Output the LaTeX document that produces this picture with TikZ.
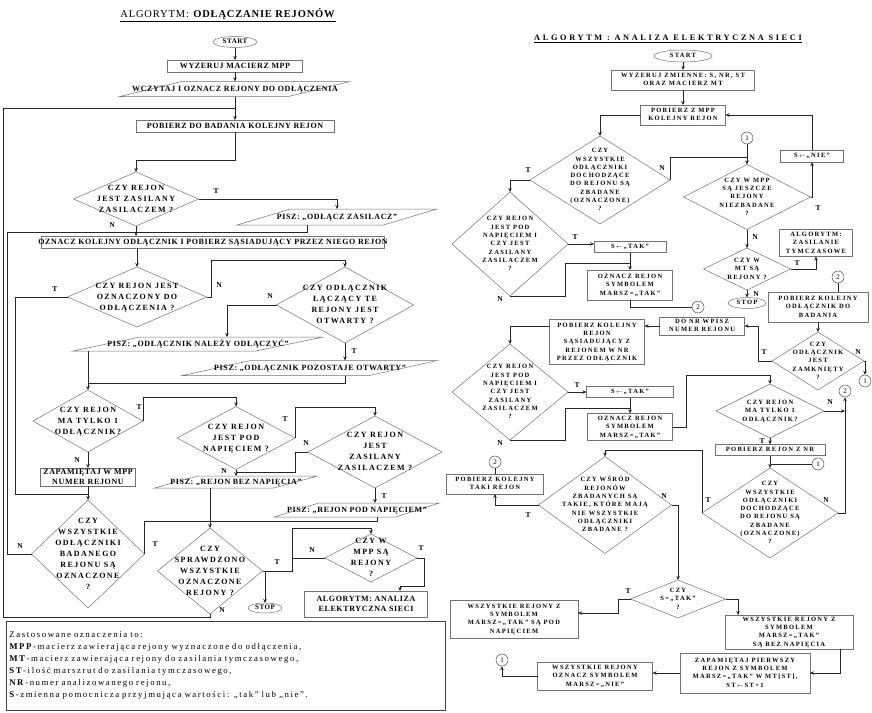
\documentclass[tikz,border=0pt]{standalone}
\usepackage{fontspec}
\setmainfont{Liberation Serif}
\newfontfamily\lfont[LetterSpace=8]{Liberation Serif}
\newfontfamily\ldfont[LetterSpace=18]{Liberation Serif}
\newfontfamily\rfont[LetterSpace=20]{Liberation Serif}
\newfontfamily\rtfont[LetterSpace=32]{Liberation Serif}
\usetikzlibrary{arrows.meta, shapes.geometric}
\newcommand{\fctext}[1]{\smash{\makebox[0pt]{\raisebox{-0.25em}{\begin{tabular}{@{}c@{}}#1\end{tabular}}}}}
\tikzset{
  sz/.style 2 args={minimum width=#1pt, minimum height=#2pt},
  fcshape/.style={draw=black!55, line width=0.5pt, fill=white, inner sep=0pt, outer sep=0pt},
  lbox/.style={fcshape, rectangle, font=\lfont\bfseries\fontsize{8}{10}\selectfont},
  ldec/.style={fcshape, diamond, font=\ldfont\bfseries\fontsize{8}{11}\selectfont},
  lio/.style={fcshape, trapezium, trapezium left angle=60, trapezium right angle=120,
    trapezium stretches=true, inner sep=1pt, font=\lfont\bfseries\fontsize{8}{10}\selectfont},
  lterm/.style={fcshape, ellipse, font=\lfont\bfseries\fontsize{7}{8}\selectfont},
  rbox/.style={fcshape, rectangle, font=\rfont\bfseries\fontsize{6.5}{8.3}\selectfont},
  rdec/.style={fcshape, diamond, font=\rfont\bfseries\fontsize{6.5}{8.3}\selectfont},
  rterm/.style={fcshape, ellipse, font=\rfont\bfseries\fontsize{6.5}{8}\selectfont},
  fcconn/.style={circle, draw=black!70, line width=0.5pt, fill=white, minimum size=12pt,
    inner sep=0pt, font=\fontsize{7}{8}\selectfont},
  fcarrow/.style={-{Stealth[length=4pt,width=3.5pt]}, line width=0.6pt, black!85},
  fcline/.style={line width=0.6pt, black!85},
  fclabel/.style={font=\lfont\bfseries\fontsize{7.5}{8}\selectfont, inner sep=0pt},
}

\begin{document}
\begin{tikzpicture}[x=1pt, y=-1pt]
  \fill[white] (0,0) rectangle (872,712);
  \useasboundingbox (0,0) rectangle (872,712);

  % odlaczanie rejonow
  \node[font=\lfont\fontsize{10.5}{12}\selectfont] (ltitle) at (228,15) {\underline{ALGORYTM: \textbf{ODŁĄCZANIE REJONÓW}}};
  \node[lterm, sz={44}{11}] (start) at (235,42) {\fctext{START}};
  \node[lbox, sz={135}{12}] (zer) at (235,66) {\fctext{WYZERUJ MACIERZ MPP}};
  \node[lio, sz={230}{15}] (wcz) at (235,89) {\fctext{WCZYTAJ I OZNACZ REJONY DO ODŁĄCZENIA}};
  \node[lbox, sz={198}{12}] (pob) at (235,126) {\fctext{POBIERZ DO BADANIA KOLEJNY REJON}};
  \node[ldec, sz={125}{54}] (dzas) at (136,199) {\fctext{CZY REJON\\JEST ZASILANY\\ZASILACZEM ?}};
  \node[lio, sz={200}{16}] (pzas) at (337,217) {\fctext{PISZ: „ODŁĄCZ ZASILACZ”}};
  \node[lbox, sz={343}{12}] (ozn) at (213,242) {\fctext{OZNACZ KOLEJNY ODŁĄCZNIK I POBIERZ SĄSIADUJĄCY PRZEZ NIEGO REJON}};
  \node[ldec, sz={139}{60}] (doz) at (137,297) {\fctext{CZY REJON JEST\\OZNACZONY DO\\ODŁĄCZENIA ?}};
  \node[ldec, sz={137}{76}] (dotw) at (345,305) {\fctext{CZY ODŁĄCZNIK\\ŁĄCZĄCY TE\\REJONY JEST\\OTWARTY ?}};
  \node[lio, sz={250}{14}] (pnal) at (198,344) {\fctext{PISZ: „ODŁĄCZNIK NALEŻY ODŁĄCZYĆ”}};
  \node[lio, sz={255}{15}] (ppoz) at (310,368) {\fctext{PISZ: „ODŁĄCZNIK POZOSTAJE OTWARTY”}};
  \node[ldec, sz={110}{62}] (dtyl) at (88,421) {\fctext{CZY REJON\\MA TYLKO 1\\ODŁĄCZNIK?}};
  \node[lbox, sz={95}{18}] (zap) at (88,477) {\fctext{ZAPAMIĘTAJ W MPP\\NUMER REJONU}};
  \node[ldec, sz={118}{63}] (dnap) at (236,438) {\fctext{CZY REJON\\JEST POD\\NAPIĘCIEM ?}};
  \node[ldec, sz={134}{72}] (dzas2) at (375,452) {\fctext{CZY REJON\\JEST\\ZASILANY\\ZASILACZEM ?}};
  \node[lio, sz={163}{12}] (pbez) at (236,482) {\fctext{PISZ: „REJON BEZ NAPIĘCIA”}};
  \node[lio, sz={165}{14}] (ppod) at (357,510) {\fctext{PISZ: „REJON POD NAPIĘCIEM”}};
  \node[ldec, sz={113}{108}] (dwsz) at (88,554) {\fctext{CZY\\WSZYSTKIE\\ODŁĄCZNIKI\\BADANEGO\\REJONU SĄ\\OZNACZONE\\?}};
  \node[ldec, sz={105}{86}] (dspr) at (210,571) {\fctext{CZY\\SPRAWDZONO\\WSZYSTKIE\\OZNACZONE\\REJONY ?}};
  \node[ldec, sz={92}{48}] (dmpp) at (371,558) {\fctext{CZY W\\MPP SĄ\\REJONY\\?}};
  \node[lterm, sz={34}{10}] (stop) at (265,608) {\fctext{STOP}};
  \node[lbox, sz={123}{26}] (anal) at (366,604) {\fctext{ALGORYTM: ANALIZA\\ELEKTRYCZNA SIECI}};
  \node[draw=black!75, line width=0.6pt, anchor=north west, text width=433pt, minimum height=89pt,
    inner sep=3pt, align=left, font=\ldfont\fontsize{8.8}{12}\selectfont] (legend) at (6,621)
    {Zastosowane oznaczenia to:\\
     \textbf{MPP}-macierz zawierająca rejony wyznaczone do odłączenia,\\
     \textbf{MT}-macierz zawierająca rejony do zasilania tymczasowego,\\
     \textbf{ST}-ilość marszrut do zasilania tymczasowego,\\
     \textbf{NR}-numer analizowanego rejonu,\\
     \textbf{S}-zmienna pomocnicza przyjmująca wartości: „tak” lub „nie”.};

  \node[fclabel] (lt1) at (216,191) {T};
  \node[fclabel] (ln1) at (112,225) {N};
  \node[fclabel] (lt2) at (55,289) {T};
  \node[fclabel] (ln2) at (219,285) {N};
  \node[fclabel] (ln3) at (270,296) {N};
  \node[fclabel] (lt3) at (354,351) {T};
  \node[fclabel] (lt4) at (139,407) {T};
  \node[fclabel] (ln4) at (77,460) {N};
  \node[fclabel] (lt5) at (285,419) {T};
  \node[fclabel] (ln5) at (224,471) {N};
  \node[fclabel] (ln6) at (306,443) {N};
  \node[fclabel] (lt6) at (384,496) {T};
  \node[fclabel] (lt7) at (155,544) {T};
  \node[fclabel] (ln7) at (20,546) {N};
  \node[fclabel] (lt8) at (277,562) {T};
  \node[fclabel] (ln8) at (312,550) {N};
  \node[fclabel] (lt9) at (421,548) {T};
  \node[fclabel] (ln9) at (222,610) {N};

  \draw[fcarrow] (start) -- (zer);
  \draw[fcarrow] (zer) -- (wcz);
  \draw[fcarrow] (wcz) -- (pob);
  \draw[fcline] (dspr.south) -- (210,617) -- (3,617) -- (3,108) -- (235,108);
  \draw[fcarrow] (pob.south) |- (136,160) -- (dzas.north);
  \draw[fcarrow] (dzas.east) -| (pzas.north);
  \draw[fcarrow] (dzas.south) -- (dzas.south |- ozn.north);
  \draw[fcline] (307,0 |- pzas.south) |- (136,232);
  \draw[fcline] (dwsz.west) -- (7,554) -- (7,232) -- (136,232);
  \draw[fcarrow] (doz.north |- ozn.south) -- (doz.north);
  \draw[fcarrow] (doz.west) -| (15,494) -- (88,494) -- (dwsz.north);
  \draw[fcarrow] (doz.east) -- (211,297) -- (211,260) -| (dotw.north);
  \draw[fcarrow] (dotw.west) -| (227,0 |- pnal.north);
  \draw[fcarrow] (dotw.south) -- (dotw.south |- ppoz.north);
  \draw[fcline] (88,0 |- pnal.south) -- (88,383);
  \draw[fcline] (345,0 |- ppoz.south) |- (88,383);
  \draw[fcarrow] (88,383) -- (dtyl.north);
  \draw[fcarrow] (dtyl.east) -- (143,397) -| (dnap.north);
  \draw[fcarrow] (dtyl.south) -- (zap.north);
  \draw[fcline] (zap.south) -- (88,494);
  \draw[fcarrow] (dnap.east) -- (295,407) -| (dzas2.north);
  \draw[fcarrow] (dnap.south) -- (dnap.south |- pbez.north);
  \draw[fcline] (dzas2.west) -- (295,452) |- (236,472);
  \draw[fcarrow] (dzas2.south) -- (dzas2.south |- ppod.north);
  \draw[fcline] (210,0 |- pbez.south) -- (210,521);
  \draw[fcline] (dwsz.east) |- (377,521) -- (377,0 |- ppod.south);
  \draw[fcarrow] (210,521) -- (dspr.north);
  \draw[fcarrow] (dspr.east) -- (292,571) -- (292,528) -| (dmpp.north);
  \draw[fcarrow] (dmpp.west) -- (292,558) -- (292,571) -- (265,571) -- (stop.north);
  \draw[fcarrow] (dmpp.east) -- (424,558) -- (424,586) -- (400,586) -- (400,0 |- anal.north);

  % analiza elektryczna sieci
  \node[font=\rtfont\bfseries\fontsize{8.3}{10}\selectfont] (rtitle) at (668,39) {\underline{ALGORYTM : ANALIZA ELEKTRYCZNA SIECI}};
  \node[rterm, sz={58}{12}] (rstart) at (683,56) {\fctext{START}};
  \node[rbox, sz={143}{20}] (rzer) at (683,80) {\fctext{WYZERUJ ZMIENNE: S, NR, ST\\ORAZ MACIERZ MT}};
  \node[rbox, sz={85}{20}] (rpob) at (683,115) {\fctext{POBIERZ Z MPP\\KOLEJNY REJON}};
  \node[rdec, sz={140}{88}] (rd1) at (600,180) {\fctext{CZY\\WSZYSTKIE\\ODŁĄCZNIKI\\DOCHODZĄCE\\DO REJONU SĄ\\ZBADANE\\(OZNACZONE)\\?}};
  \node[fcconn] (rc1a) at (747,138) {1};
  \node[rdec, sz={127}{65}] (rd3) at (747,197) {\fctext{CZY W MPP\\SĄ JESZCZE\\REJONY\\NIEZBADANE\\?}};
  \node[rbox, sz={63}{12}] (rsnie) at (812,156) {\fctext{S\,$\scriptstyle\leftarrow$\,„NIE”}};
  \node[rdec, sz={87}{42}] (rd4) at (747,269) {\fctext{CZY W\\MT SĄ\\REJONY ?}};
  \node[rbox, sz={73}{27}] (ralg) at (816,243) {\fctext{ALGORYTM:\\ZASILANIE\\TYMCZASOWE}};
  \node[rterm, sz={38}{11}] (rstop) at (747,303) {\fctext{STOP}};
  \node[rdec, sz={116}{104}] (rd2) at (510,244) {\fctext{CZY REJON\\JEST POD\\NAPIĘCIEM I\\CZY JEST\\ZASILANY\\ZASILACZEM\\?}};
  \node[rbox, sz={72}{11}] (rstak1) at (630,247) {\fctext{S\,$\scriptstyle\leftarrow$\,„TAK”}};
  \node[rbox, sz={85}{30}] (rozn1) at (630,285) {\fctext{OZNACZ REJON\\SYMBOLEM\\MARSZ=„TAK”}};
  \node[fcconn] (rc2a) at (698,307) {2};
  \node[fcconn] (rc2b) at (838,277) {2};
  \node[rbox, sz={100}{30}] (rpobodl) at (818,307) {\fctext{POBIERZ KOLEJNY\\ODŁĄCZNIK DO\\BADANIA}};
  \node[rdec, sz={92}{58}] (rd5) at (818,361) {\fctext{CZY\\ODŁĄCZNIK\\JEST\\ZAMKNIĘTY\\?}};
  \node[fcconn] (rc1b) at (865,381) {1};
  \node[rbox, sz={85}{18}] (rdonr) at (702,326) {\fctext{DO NR WPISZ\\NUMER REJONU}};
  \node[rbox, sz={95}{45}] (rpobsas) at (597,342) {\fctext{POBIERZ KOLEJNY\\REJON\\SĄSIADUJĄCY Z\\REJONEM W NR\\PRZEZ ODŁĄCZNIK}};
  \node[rdec, sz={116}{96}] (rd6) at (510,392) {\fctext{CZY REJON\\JEST POD\\NAPIĘCIEM I\\CZY JEST\\ZASILANY\\ZASILACZEM\\?}};
  \node[rbox, sz={87}{11}] (rstak2) at (630,392) {\fctext{S\,$\scriptstyle\leftarrow$\,„TAK”}};
  \node[rbox, sz={85}{27}] (rozn2) at (630,427) {\fctext{OZNACZ REJON\\SYMBOLEM\\MARSZ=„TAK”}};
  \node[rdec, sz={108}{54}] (rd7) at (770,411) {\fctext{CZY REJON\\MA TYLKO 1\\ODŁĄCZNIK?}};
  \node[fcconn] (rc2c) at (845,391) {2};
  \node[rbox, sz={110}{11}] (rpobnr) at (770,450) {\fctext{POBIERZ REJON Z NR}};
  \node[fcconn] (rc1c) at (818,464) {1};
  \node[rdec, sz={136}{90}] (rd8) at (770,513) {\fctext{CZY\\WSZYSTKIE\\ODŁĄCZNIKI\\DOCHODZĄCE\\DO REJONU SĄ\\ZBADANE\\(OZNACZONE)\\?}};
  \node[rdec, sz={133}{97}] (rd9) at (605,505) {\fctext{CZY WŚRÓD\\REJONÓW\\ZBADANYCH SĄ\\TAKIE, KTÓRE MAJĄ\\NIE WSZYSTKIE\\ODŁĄCZNIKI\\ZBADANE ?}};
  \node[rbox, sz={97}{20}] (rpobtaki) at (495,484) {\fctext{POBIERZ KOLEJNY\\TAKI REJON}};
  \node[fcconn] (rc2d) at (495,462) {2};
  \node[rdec, sz={95}{38}] (rd10) at (678,599) {\fctext{CZY\\S=„TAK”\\?}};
  \node[rbox, sz={128}{38}] (rwszpod) at (514,619) {\fctext{WSZYSTKIE REJONY Z\\SYMBOLEM\\MARSZ=„TAK” SĄ POD\\NAPIĘCIEM}};
  \node[rbox, sz={128}{34}] (rwszbez) at (789,632) {\fctext{WSZYSTKIE REJONY Z\\SYMBOLEM\\MARSZ=„TAK”\\SĄ BEZ NAPIĘCIA}};
  \node[rbox, sz={130}{40}] (rzapam) at (745,673) {\fctext{ZAPAMIĘTAJ PIERWSZY\\REJON Z SYMBOLEM\\MARSZ=„TAK” W MT[ST],\\ST\,$\scriptstyle\leftarrow$\,ST+1}};
  \node[rbox, sz={115}{28}] (rwsznie) at (595,676) {\fctext{WSZYSTKIE REJONY\\OZNACZ SYMBOLEM\\MARSZ=„NIE”}};
  \node[fcconn] (rc1d) at (502,660) {1};

  \node[fclabel] (rt1) at (528,170) {T};
  \node[fclabel] (rn1) at (662,168) {N};
  \node[fclabel] (rt3) at (818,208) {T};
  \node[fclabel] (rn3) at (755,237) {N};
  \node[fclabel] (rt4) at (797,263) {T};
  \node[fclabel] (rn4) at (756,294) {N};
  \node[fclabel] (rt2) at (575,237) {T};
  \node[fclabel] (rn2) at (500,299) {N};
  \node[fclabel] (rt5) at (764,352) {T};
  \node[fclabel] (rn5) at (858,352) {N};
  \node[fclabel] (rt6) at (577,385) {T};
  \node[fclabel] (rn6) at (500,443) {N};
  \node[fclabel] (rn7) at (830,402) {N};
  \node[fclabel] (rt7) at (762,441) {T};
  \node[fclabel] (rt8) at (708,500) {T};
  \node[fclabel] (rn8) at (826,500) {N};
  \node[fclabel] (rt9) at (528,515) {T};
  \node[fclabel] (rn9) at (664,496) {N};
  \node[fclabel] (rt10) at (628,591) {T};

  \draw[fcarrow] (rstart) -- (rzer);
  \draw[fcarrow] (rzer) -- (rpob);
  \draw[fcarrow] (rpob.west) -| (rd1.north);
  \draw[fcarrow] (rd1.west) -| (rd2.north);
  \draw[fcline] (rd1.east) |- (747,157);
  \draw[fcarrow] (rc1a) -- (rd3.north);
  \draw[fcarrow] (rd3.east) -| (rsnie.south);
  \draw[fcarrow] (rsnie.north) |- (rpob.east);
  \draw[fcarrow] (rd3) -- (rd4);
  \draw[fcarrow] (rd4.east) -| (ralg.south);
  \draw[fcarrow] (rd4) -- (rstop);
  \draw[fcarrow] (rd2.east) -- (rd2.east -| rstak1.west);
  \draw[fcarrow] (rd2.south) -- (565,296) |- (630,263) -- (rozn1.north);
  \draw[fcline] (rstak1.south) -- (630,263);
  \draw[fcline] (rozn1.south) |- (rc2a.west);
  \draw[fcline] (rc2b.south) -- (rc2b.south |- rpobodl.north);
  \draw[fcarrow] (rpobodl) -- (rd5);
  \draw[fcarrow] (rd5.west) -- (758,361) |- (rdonr.east);
  \draw[fcarrow] (rd5.east) -| (rc1b.north);
  \draw[fcarrow] (rdonr.west) -- (rdonr.west -| rpobsas.east);
  \draw[fcarrow] (rpobsas.west |- rdonr.west) -| (rd6.north);
  \draw[fcarrow] (rd6.east) -- (rd6.east -| rstak2.west);
  \draw[fcarrow] (rd6.south) -- (565,440) |- (630,408) -- (rozn2.north);
  \draw[fcline] (rstak2.south) -- (630,408);
  \draw[fcarrow] (rozn2.east) -- (686,427) |- (770,375) -- (rd7.north);
  \draw[fcarrow] (rd7.east) -- (845,411);
  \draw[fcarrow] (rd8.east) -| (rc2c.south);
  \draw[fcarrow] (rd7) -- (rpobnr);
  \draw[fcarrow] (rpobnr) -- (rd8);
  \draw[fcline] (rc1c.west) -- (770,464);
  \draw[fcarrow] (rd8.west) -- (702,450) -| (rd9.north);
  \draw[fcarrow] (rd9.west) -| (rpobtaki.south);
  \draw[fcline] (rpobtaki.north) -- (rc2d.south);
  \draw[fcarrow] (rd9.east) -- (678,505) -- (rd10.north);
  \draw[fcarrow] (rd10.west) -- (618,599) -- (618,613) -- (rwszpod.east |- 0,613);
  \draw[fcarrow] (rd10.east) -- (738,599) -- (738,0 |- rwszbez.north);
  \draw[fcarrow] (840,0 |- rwszbez.south) |- (rzapam.east);
  \draw[fcarrow] (rzapam.west) -- (rzapam.west -| rwsznie.east);
  \draw[fcarrow] (rwsznie.west) -| (rc1d.south);
\end{tikzpicture}
\end{document}
